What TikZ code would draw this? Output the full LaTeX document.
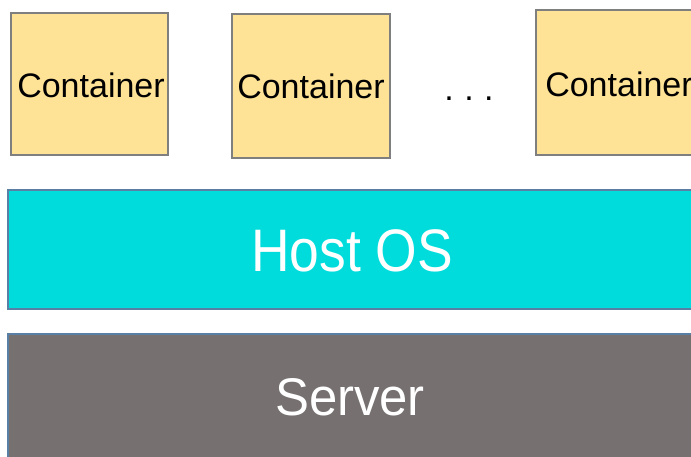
\documentclass[tikz,border=0pt]{standalone}
\usepackage{fontspec}
\setmainfont{Liberation Sans}
\definecolor{contfill}{HTML}{FEE397}
\definecolor{contdraw}{HTML}{7F7F7F}
\definecolor{hostfill}{HTML}{00DCDC}
\definecolor{servfill}{HTML}{767170}
\definecolor{layerdraw}{HTML}{5A7FA5}
\begin{document}
\begin{tikzpicture}[x=1pt,y=-1pt,
  contbox/.style={draw=contdraw,fill=contfill,line width=2pt},
  layerbox/.style={draw=layerdraw,line width=1.3pt},
  conttext/.style={font=\fontsize{34}{40}\selectfont,text=black,inner sep=0pt,anchor=base},
  layertext/.style={text=white,inner sep=0pt,anchor=base}]
\useasboundingbox (0,0) rectangle (691,456);
\begin{scope}
\clip (0,0) rectangle (691,456);
% containers
\draw[contbox] (11,13) rectangle (168,155);
\node[conttext] (c1) at (91,97) {Container};
\draw[contbox] (232,14) rectangle (390,158);
\node[conttext] (c2) at (311,98.5) {Container};
\draw[contbox] (536,10) rectangle (694,155);
\node[conttext] (c3) at (619,96.5) {Container};
\node[font=\fontsize{34}{40}\selectfont,inner sep=0pt,anchor=base] (dots) at (469,100) {.\hspace{10.5pt}.\hspace{10.5pt}.};
% host OS
\draw[layerbox,fill=hostfill] (8,190) rectangle (700,309);
\node[layertext,font=\fontsize{60}{70}\selectfont,xscale=0.89] (host) at (352,271) {Host OS};
% server
\draw[layerbox,fill=servfill] (8,334) rectangle (700,470);
\node[layertext,font=\fontsize{53}{60}\selectfont,xscale=0.96] (server) at (350,415) {Server};
\end{scope}
\end{tikzpicture}
\end{document}
